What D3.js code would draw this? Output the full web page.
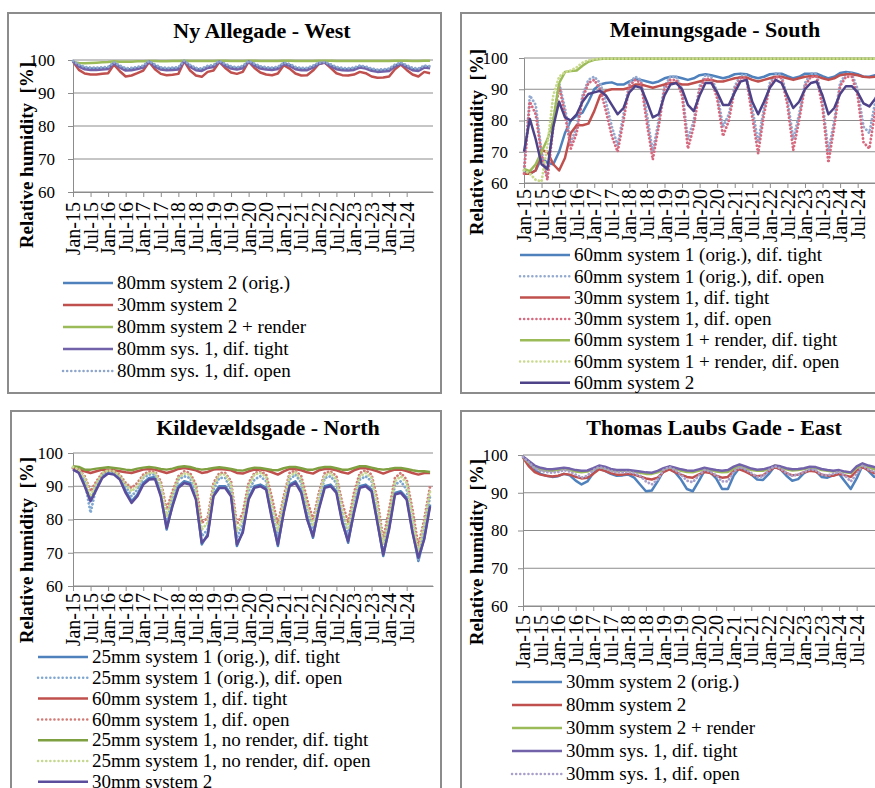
<!DOCTYPE html>
<html>
<head>
<meta charset="utf-8">
<script src="https://cdn.jsdelivr.net/npm/d3@7"></script>
<style>
  body { margin: 0; background: #fff; }
  svg { display: block; font-family: "Liberation Serif", "Times New Roman", serif; }
</style>
</head>
<body>
<svg id="chart" width="875" height="788"></svg>
<script>

// x positions: months since Jan-15, one sample every second month
var months = d3.range(0, 124, 2);
var tickMonths = d3.range(0, 120, 6);
var tickLabels = ["Jan-15", "Jul-15", "Jan-16", "Jul-16", "Jan-17", "Jul-17", "Jan-18", "Jul-18",
  "Jan-19", "Jul-19", "Jan-20", "Jul-20", "Jan-21", "Jul-21", "Jan-22", "Jul-22",
  "Jan-23", "Jul-23", "Jan-24", "Jul-24"];
var yTicks = [60, 70, 80, 90, 100];

// ---- Ny Allegade - West
var west80orig = [99.6, 98.3, 97.6, 97.4, 97.4, 97.5, 97.6, 99.2, 98.0, 97.2, 97.3, 97.6,
  98.0, 99.6, 98.3, 97.5, 97.3, 97.4, 97.5, 99.7, 98.2, 97.3, 97.1, 97.9,
  98.2, 99.6, 98.5, 97.8, 97.5, 97.9, 99.6, 98.6, 97.8, 97.5, 97.4, 97.6,
  99.0, 98.5, 97.6, 97.3, 97.3, 98.0, 99.0, 99.3, 98.4, 97.6, 97.3, 97.2,
  97.4, 98.0, 97.7, 97.1, 96.8, 96.9, 97.1, 98.3, 99.0, 98.1, 97.3, 97.1, 98.0, 97.8];
var west30 = [99.5, 97.0, 95.9, 95.6, 95.6, 95.8, 96.0, 98.6, 96.6, 95.0, 95.3, 96.0,
  96.8, 99.4, 97.2, 95.8, 95.4, 95.5, 95.8, 99.6, 96.8, 95.3, 94.9, 96.4,
  96.8, 99.4, 97.6, 96.2, 95.8, 96.4, 99.5, 97.6, 96.2, 95.6, 95.4, 95.9,
  98.4, 97.4, 95.9, 95.3, 95.4, 96.8, 98.8, 99.2, 97.6, 96.0, 95.4, 95.3,
  95.6, 96.4, 96.0, 95.0, 94.6, 94.7, 95.0, 97.2, 98.6, 97.0, 95.6, 95.0, 96.4, 96.0];
var west80render = [99.3, 99.1, 99.0, 99.1, 99.2, 99.3, 99.4, 99.6, 99.5, 99.5, 99.5, 99.6,
  99.6, 99.7, 99.7, 99.6, 99.6, 99.7, 99.7, 99.8, 99.7, 99.7, 99.7, 99.7,
  99.7, 99.8, 99.8, 99.7, 99.7, 99.7, 99.8, 99.8, 99.7, 99.7, 99.7, 99.7,
  99.8, 99.8, 99.7, 99.7, 99.7, 99.7, 99.8, 99.8, 99.8, 99.7, 99.7, 99.7,
  99.7, 99.7, 99.7, 99.7, 99.7, 99.7, 99.7, 99.8, 99.8, 99.8, 99.7, 99.7, 99.8, 99.8];
var west80tight = [99.5, 98.0, 97.2, 97.0, 97.0, 97.1, 97.3, 99.0, 97.7, 96.8, 96.9, 97.3,
  97.7, 99.5, 98.0, 97.1, 96.9, 97.0, 97.1, 99.6, 97.9, 96.9, 96.7, 97.6,
  97.9, 99.5, 98.2, 97.4, 97.1, 97.5, 99.5, 98.3, 97.4, 97.1, 97.0, 97.3,
  98.8, 98.2, 97.2, 96.9, 96.9, 97.7, 98.8, 99.2, 98.1, 97.2, 96.9, 96.8,
  97.0, 97.7, 97.4, 96.7, 96.4, 96.5, 96.7, 98.0, 98.8, 97.8, 96.9, 96.7, 97.7, 97.5];
var west80open = [99.7, 98.6, 97.9, 97.7, 97.7, 97.8, 97.9, 99.3, 98.3, 97.5, 97.6, 97.9,
  98.3, 99.7, 98.6, 97.8, 97.6, 97.7, 97.8, 99.8, 98.5, 97.6, 97.4, 98.2,
  98.5, 99.7, 98.8, 98.1, 97.8, 98.2, 99.7, 98.9, 98.1, 97.8, 97.7, 97.9,
  99.2, 98.8, 97.9, 97.6, 97.6, 98.3, 99.2, 99.4, 98.7, 97.9, 97.6, 97.5,
  97.7, 98.3, 98.0, 97.4, 97.1, 97.2, 97.4, 98.6, 99.2, 98.4, 97.6, 97.4, 98.3, 98.1];

// ---- Meinungsgade - South
var south60tight = [64, 63, 64, 68, 66.5, 66, 70, 76, 80, 81.5, 82.5, 86,
  90, 91.5, 92, 92.2, 91.5, 91.5, 92.5, 93.2, 93, 92.5, 92, 92.5,
  93.5, 94, 94, 93.5, 93, 93.5, 94.5, 94.8, 94.5, 94, 93.5, 94,
  94.8, 95, 94.8, 94, 93.5, 94, 94.8, 95, 95, 94.2, 93.5, 94,
  95, 95, 95, 94.2, 93.5, 94, 95.2, 95.5, 95.3, 94.8, 94, 94, 94.5, 94.5];
var south60open = [64, 88, 85, 70, 62, 80, 92, 84, 73, 78, 88, 93,
  94, 92, 86, 78, 72, 82, 92, 94, 93, 82, 70, 80,
  91, 94, 94, 90, 74, 80, 91, 94.5, 94, 89, 78, 82,
  91, 94.5, 94.5, 84, 73, 84, 92, 95, 94.5, 87, 74, 82,
  92, 95, 95, 86, 70, 80, 92, 95, 95, 90, 78, 76, 86, 92];
var south30tight = [63, 63, 64, 70.5, 70, 66, 64, 68, 76, 78.5, 78.5, 79,
  83, 88, 89.5, 90, 90, 90, 90.5, 91.5, 91.5, 91, 90.5, 91,
  91.5, 92, 92, 91.5, 91.5, 92, 92.5, 93, 93, 92.5, 92.5, 93,
  93.5, 93.8, 93.8, 93, 92.5, 93, 93.5, 94, 94, 93.5, 93, 93.5,
  94, 94.2, 94.2, 93.5, 93, 93.5, 94.5, 94.8, 94.8, 94.5, 94, 93.8, 94, 94];
var south30open = [63, 86, 82, 69, 61, 78, 91, 82, 71, 76, 87, 92,
  93, 90, 83, 75, 70, 80, 91, 93, 92, 79, 67.5, 78,
  90, 93, 93, 88, 71, 78, 90, 93.5, 93, 87, 75, 80,
  90, 93.5, 93.5, 81, 69.5, 82, 91, 94, 93.5, 85, 70.5, 80,
  91, 94, 94, 84, 66.5, 78, 91, 94, 94, 88, 73, 71, 83, 91];
var south60renderTight = [64.5, 63.8, 66, 70, 74, 80, 92, 95.5, 95.8, 96, 97.5, 98.8,
  99.4, 99.7, 99.8, 99.8, 99.8, 99.8, 99.8, 99.8, 99.8, 99.8, 99.8, 99.8,
  99.8, 99.8, 99.8, 99.8, 99.8, 99.8, 99.8, 99.8, 99.8, 99.8, 99.8, 99.8,
  99.8, 99.8, 99.8, 99.8, 99.8, 99.8, 99.8, 99.8, 99.8, 99.8, 99.8, 99.8,
  99.8, 99.8, 99.8, 99.8, 99.8, 99.8, 99.8, 99.8, 99.8, 99.8, 99.8, 99.8, 99.8, 99.8];
var south60renderOpen = [64, 63, 61, 60.5, 72, 88, 94, 95.5, 96, 97, 98.5, 99.3,
  99.6, 99.8, 99.8, 99.8, 99.8, 99.8, 99.8, 99.8, 99.8, 99.8, 99.8, 99.8,
  99.8, 99.8, 99.8, 99.8, 99.8, 99.8, 99.8, 99.8, 99.8, 99.8, 99.8, 99.8,
  99.8, 99.8, 99.8, 99.8, 99.8, 99.8, 99.8, 99.8, 99.8, 99.8, 99.8, 99.8,
  99.8, 99.8, 99.8, 99.8, 99.8, 99.8, 99.8, 99.8, 99.8, 99.8, 99.8, 99.8, 99.8, 99.8];
var south60sys2 = [70, 80.5, 74, 66, 64.5, 78, 86, 81, 80, 82, 86, 88.5,
  89, 89.5, 88, 85, 82, 84, 89, 91, 90.5, 86, 81, 82,
  88, 91.5, 92, 90, 85, 83, 88, 92, 92, 89, 85, 85,
  89, 92.5, 93, 86, 82, 86, 90.5, 93, 92, 88, 84, 86,
  90, 92, 92.5, 88, 82, 84, 88.5, 91, 91, 89, 85.5, 84.5, 87, 90];

// ---- Kildevaeldsgade - North
var north25tight = [95.5, 94.5, 90.5, 86, 89.5, 93, 94.2, 94, 92.5, 88.5, 85.5, 87.5,
  91, 92.5, 92.8, 87.5, 77, 84.5, 90, 91.5, 91, 86.5, 72.5, 75.5,
  87.5, 90, 90, 87.5, 72, 76.5, 86.5, 90, 90.5, 89.5, 80.5, 72,
  82.5, 90.5, 91.5, 88.5, 80.5, 74.5, 83.5, 90, 90.5, 88.5, 79.5, 73,
  82.5, 90, 90.5, 89, 79.5, 69, 77.5, 88, 88.5, 86.5, 76.5, 67.5, 74.5, 84.5];
var north25open = [95.5, 94.5, 91.5, 82, 90, 93.5, 94.5, 94.2, 93, 90, 87, 89,
  92.5, 93.5, 93.5, 89, 79, 86, 92, 93, 92.5, 88, 75, 77,
  89, 92.5, 92.5, 89, 74.5, 78.5, 88.5, 92, 93, 91.5, 82.5, 74.5,
  84.5, 92, 93.5, 91, 82.5, 76, 85.5, 92.5, 93, 91, 81.5, 75,
  85, 92, 93, 91.5, 82, 70.5, 80, 90.5, 91.5, 89, 79, 68, 77, 87];
var north60tight = [95.5, 95.0, 94.5, 94.0, 94.5, 95.0, 95.0, 94.8, 94.5, 94.2, 94.0, 94.5,
  95.0, 95.2, 95.0, 94.5, 94.0, 94.5, 95.2, 95.5, 95.2, 94.8, 94.0, 94.3,
  95.0, 95.2, 95.0, 94.8, 94.0, 93.8, 94.5, 95.0, 95.0, 94.8, 94.2, 93.5,
  94.5, 95.2, 95.2, 94.8, 94.2, 93.8, 94.8, 95.2, 95.2, 94.8, 94.2, 93.8,
  94.8, 95.4, 95.4, 95.0, 94.5, 93.8, 94.5, 95.0, 95.0, 94.6, 94.0, 93.5, 94.0, 94.0];
var north60open = [95.5, 95, 93, 88.5, 91.5, 94, 94.8, 94.5, 93.5, 91, 89.5, 91,
  93.5, 94.5, 94.5, 91.5, 83, 88.5, 93, 94.5, 94, 90.5, 79, 80.5,
  91, 94, 94, 91.5, 78.5, 82, 91, 94, 94.5, 93.5, 86.5, 78.5,
  87, 94, 94.8, 93, 86, 80, 88, 94, 94.5, 93, 85, 79,
  88, 94, 94.8, 93.5, 86, 74, 83, 92.5, 94, 92, 83, 72, 80, 90];
var north25noRenderTight = [96.0, 95.8, 95.0, 95.0, 95.3, 95.5, 95.7, 95.5, 95.3, 95.0, 94.8, 95.3,
  95.6, 95.8, 95.6, 95.2, 95.0, 95.3, 95.8, 96.0, 95.8, 95.3, 95.0, 95.2,
  95.5, 95.7, 95.5, 95.2, 94.8, 94.7, 95.2, 95.6, 95.5, 95.2, 94.9, 94.8,
  95.4, 95.8, 95.8, 95.4, 95.0, 95.0, 95.5, 95.8, 95.8, 95.4, 95.0, 95.0,
  95.5, 96.0, 96.0, 95.6, 95.2, 95.0, 95.2, 95.5, 95.5, 95.2, 94.8, 94.5, 94.5, 94.3];
var north25noRenderOpen = [95.8, 95, 92.5, 87, 91, 94, 94.8, 94.5, 93.2, 90.5, 88.5, 90,
  93, 94, 94, 90.5, 81, 87.5, 92.5, 93.8, 93.5, 89.5, 77, 79,
  90, 93.5, 93.5, 90.5, 76.5, 80, 90, 93.5, 94, 92.8, 84.5, 76.5,
  85.5, 93, 94.2, 92, 84, 78, 86.5, 93.2, 94, 92, 83, 77,
  86.5, 93, 94, 92.5, 84, 72.5, 81.5, 91.5, 93, 91, 81, 70, 78.5, 88.5];
var north30sys2 = [95, 94, 90, 85.5, 89, 92.5, 93.8, 93.5, 92, 88, 85, 87,
  90.5, 92, 92.2, 87, 77.5, 84, 89.5, 91, 90.5, 86, 73, 75,
  87, 89.5, 89.5, 87, 72.5, 76, 86, 89.5, 90, 89, 80, 72.5,
  82, 90, 91, 88, 80, 75, 83, 89.5, 90, 88, 79, 73.5,
  82, 89.5, 90, 88.5, 79, 69.5, 77, 87.5, 88, 86, 76, 68.5, 74, 84];

// ---- Thomas Laubs Gade - East
var east30orig = [99.5, 97.6, 96.0, 95.0, 94.5, 94.2, 94.4, 95.0, 94.6, 93.2, 92.2, 93.0,
  95.2, 96.4, 95.8, 95.0, 94.5, 94.6, 94.8, 94.0, 92.2, 90.4, 90.6, 93.0,
  95.8, 96.4, 95.4, 93.5, 91.0, 90.4, 93.0, 95.8, 95.4, 93.8, 91.0, 91.0,
  94.6, 96.6, 96.0, 94.8, 93.5, 93.4, 95.0, 97.0, 96.2, 94.5, 93.2, 93.6,
  95.2, 96.0, 95.8, 94.2, 94.0, 94.6, 95.0, 93.0, 91.0, 93.8, 97.2, 95.8, 94.2, 94.8];
var east80 = [99.3, 97.0, 95.5, 94.8, 94.5, 94.3, 94.5, 95.0, 94.8, 94.2, 93.8, 94.0,
  95.0, 96.2, 95.8, 95.2, 94.8, 94.8, 95.0, 94.8, 94.3, 93.8, 93.5, 94.0,
  95.5, 96.2, 95.5, 94.8, 94.2, 94.0, 94.8, 95.5, 95.2, 94.5, 94.0, 94.2,
  95.8, 96.2, 95.6, 94.8, 94.4, 94.6, 95.8, 96.8, 96.2, 95.2, 94.6, 94.8,
  95.4, 95.8, 95.6, 94.8, 94.6, 94.5, 95.0, 94.6, 94.2, 95.8, 96.8, 96.0, 95.2, 95.0];
var east30render = [99.5, 98.0, 96.8, 96.0, 95.8, 95.8, 96.0, 96.3, 96.0, 95.6, 95.4, 95.6,
  96.2, 96.8, 96.5, 96.0, 95.7, 95.8, 95.8, 95.6, 95.3, 95.0, 95.0, 95.4,
  96.2, 96.8, 96.3, 95.8, 95.5, 95.4, 95.8, 96.3, 96.0, 95.6, 95.4, 95.5,
  96.4, 97.0, 96.5, 96.0, 95.8, 95.8, 96.4, 97.2, 96.8, 96.2, 95.9, 96.0,
  96.3, 96.6, 96.6, 96.0, 95.8, 95.6, 95.8, 95.4, 95.2, 96.6, 97.4, 96.8, 96.2, 96.0];
var east30tight = [99.6, 98.4, 97.2, 96.6, 96.3, 96.2, 96.4, 96.6, 96.4, 96.0, 95.8, 95.9,
  96.5, 97.2, 96.9, 96.3, 96.0, 96.0, 96.0, 95.8, 95.6, 95.4, 95.3, 95.8,
  96.5, 97.0, 96.6, 96.2, 95.9, 95.8, 96.2, 96.6, 96.3, 96.0, 95.8, 96.0,
  96.9, 97.5, 97.0, 96.4, 96.1, 96.2, 96.6, 97.2, 97.0, 96.5, 96.2, 96.3,
  96.5, 96.9, 96.8, 96.3, 96.0, 95.8, 96.0, 95.6, 95.4, 97.0, 97.8, 97.2, 96.8, 96.6];
var east30open = [99.5, 98.0, 96.5, 95.8, 95.5, 95.3, 95.5, 96.0, 95.6, 94.8, 94.0, 94.5,
  96.0, 96.8, 96.4, 95.8, 95.4, 95.4, 95.5, 95.2, 94.5, 93.0, 92.2, 93.5,
  96.0, 96.8, 96.0, 94.8, 93.2, 92.8, 94.5, 96.0, 95.6, 94.6, 93.0, 93.0,
  95.6, 96.8, 96.2, 95.2, 94.2, 94.3, 96.0, 97.0, 96.4, 95.2, 94.5, 94.8,
  95.5, 96.2, 96.0, 94.8, 94.6, 95.0, 95.5, 94.5, 93.0, 95.0, 97.2, 96.2, 95.5, 95.2];


var svg = d3.select("#chart");

var panels = [
  {
    title: "Ny Allegade - West", frame: [8, 13, 433, 380], titleX: 262, titleY: 38,
    left: 73, top: 60, bottom: 192, yPad: 13, xPad: 10, yTitleX: 33, yTitleY: 155,
    legX: 63, legY: 283, legStep: 22,
    series: [
      {name: "80mm system 2 (orig.)", values: west80orig, color: "#4F81BD"},
      {name: "30mm system 2", values: west30, color: "#C0504D"},
      {name: "80mm system 2 + render", values: west80render, color: "#9BBB59"},
      {name: "80mm sys. 1, dif. tight", values: west80tight, color: "#7262AA"},
      {name: "80mm sys. 1, dif. open", values: west80open, color: "#8FA6CC", dotted: true}
    ]
  },
  {
    title: "Meinungsgade - South", frame: [461, 13, 440, 380], titleX: 715, titleY: 37,
    left: 524, top: 58, bottom: 183, yPad: 11, xPad: 6, yTitleX: 483, yTitleY: 142,
    legX: 520, legY: 255, legStep: 21.3,
    series: [
      {name: "60mm system 1 (orig.), dif. tight", values: south60tight, color: "#4F81BD"},
      {name: "60mm system 1 (orig.), dif. open", values: south60open, color: "#93A9CF", dotted: true},
      {name: "30mm system 1, dif. tight", values: south30tight, color: "#C0504D"},
      {name: "30mm system 1, dif. open", values: south30open, color: "#D7697F", dotted: true},
      {name: "60mm system 1 + render, dif. tight", values: south60renderTight, color: "#9BBB59"},
      {name: "60mm system 1 + render, dif. open", values: south60renderOpen, color: "#C9DA8E", dotted: true},
      {name: "60mm system 2", values: south60sys2, color: "#4E4388"}
    ]
  },
  {
    title: "Kildevældsgade - North", frame: [11, 411, 430, 400], titleX: 268, titleY: 435,
    left: 73, top: 453, bottom: 586, yPad: 5, xPad: 7, yTitleX: 33, yTitleY: 550,
    legX: 38, legY: 657, legStep: 20.8,
    series: [
      {name: "25mm system 1 (orig.), dif. tight", values: north25tight, color: "#4F81BD"},
      {name: "25mm system 1 (orig.), dif. open", values: north25open, color: "#7FA7D0", dotted: true},
      {name: "60mm system 1, dif. tight", values: north60tight, color: "#C0504D"},
      {name: "60mm system 1, dif. open", values: north60open, color: "#D27B76", dotted: true},
      {name: "25mm system 1, no render, dif. tight", values: north25noRenderTight, color: "#7FA040"},
      {name: "25mm system 1, no render, dif. open", values: north25noRenderOpen, color: "#C5D88F", dotted: true},
      {name: "30mm system 2", values: north30sys2, color: "#5B4C9C"}
    ]
  },
  {
    title: "Thomas Laubs Gade - East", frame: [461, 411, 440, 400], titleX: 714, titleY: 435,
    left: 523, top: 455, bottom: 606, yPad: 10, xPad: 9, yTitleX: 483, yTitleY: 552,
    legX: 512, legY: 682, legStep: 23,
    series: [
      {name: "30mm system 2 (orig.)", values: east30orig, color: "#4F81BD"},
      {name: "80mm system 2", values: east80, color: "#C0504D"},
      {name: "30mm system 2 + render", values: east30render, color: "#9BBB59"},
      {name: "30mm sys. 1, dif. tight", values: east30tight, color: "#7262AA"},
      {name: "30mm sys. 1, dif. open", values: east30open, color: "#A99FCB", dotted: true}
    ]
  }
];

panels.forEach(drawPanel);

function drawPanel(p) {

  var x = d3.scaleLinear().domain([0, 123]).range([p.left, p.left + 360]);
  var y = d3.scaleLinear().domain([60, 100]).range([p.bottom, p.top]);
  var g = svg.append("g");

  // chart border
  g.append("rect")
    .attr("x", p.frame[0]).attr("y", p.frame[1])
    .attr("width", p.frame[2]).attr("height", p.frame[3])
    .attr("fill", "none").attr("stroke", "#8c8c8c").attr("stroke-width", 2);

  g.append("text")
    .attr("x", p.titleX).attr("y", p.titleY)
    .attr("text-anchor", "middle").attr("font-weight", "bold").attr("font-size", 22)
    .text(p.title);

  // gridlines
  g.selectAll(".grid").data(yTicks).enter().append("line")
    .attr("x1", p.left).attr("x2", p.left + 360)
    .attr("y1", function(d){ return y(d); }).attr("y2", function(d){ return y(d); })
    .attr("stroke", "#8c8c8c").attr("stroke-width", 1);

  var yAxis = d3.axisLeft(y).tickValues(yTicks).tickSize(5).tickPadding(p.yPad);
  var ya = g.append("g").attr("transform", "translate(" + p.left + ",0)").call(yAxis);
  ya.attr("font-family", null);
  ya.select(".domain").attr("stroke", "#8c8c8c");
  ya.selectAll(".tick line").attr("stroke", "#8c8c8c");
  ya.selectAll("text").attr("font-size", 17).attr("fill", "#000");

  var xAxis = d3.axisBottom(x).tickValues(tickMonths)
    .tickFormat(function(d, i){ return tickLabels[i]; })
    .tickSize(5).tickSizeOuter(0);
  var xa = g.append("g").attr("transform", "translate(0," + p.bottom + ")").call(xAxis);
  xa.attr("font-family", null);
  xa.select(".domain").attr("stroke", "#8c8c8c");
  xa.selectAll(".tick line").attr("stroke", "#8c8c8c");
  xa.selectAll("text")
    .attr("transform", "rotate(-90)")
    .attr("text-anchor", "end")
    .attr("x", -p.xPad).attr("y", 0).attr("dy", "0.33em")
    .attr("font-size", 20).attr("fill", "#000");

  // axis title
  g.append("text")
    .attr("transform", "translate(" + p.yTitleX + "," + p.yTitleY + ") rotate(-90)")
    .attr("text-anchor", "middle").attr("font-weight", "bold").attr("font-size", 19)
    .text("Relative humidity\u00a0 [%]");

  var line = d3.line()
    .x(function(d, i){ return x(months[i]); })
    .y(function(d){ return y(d); });

  p.series.forEach(function(s){
    g.append("path").datum(s.values)
      .attr("d", line)
      .attr("fill", "none")
      .attr("stroke", s.color)
      .attr("stroke-width", s.dotted ? 2.8 : 2.5)
      .attr("stroke-linejoin", "round")
      .attr("stroke-linecap", s.dotted ? "round" : "butt")
      .attr("stroke-dasharray", s.dotted ? "0.1,3.6" : null);
  });

  // legend
  p.series.forEach(function(s, i){
    var ly = p.legY + i * p.legStep;
    g.append("line")
      .attr("x1", p.legX).attr("x2", p.legX + 50).attr("y1", ly).attr("y2", ly)
      .attr("stroke", s.color).attr("stroke-width", 2.5)
      .attr("stroke-linecap", s.dotted ? "round" : "butt")
      .attr("stroke-dasharray", s.dotted ? "0.1,4" : null);
    g.append("text")
      .attr("x", p.legX + 54).attr("y", ly).attr("dy", "0.33em")
      .attr("font-size", 19)
      .text(s.name);
  });
}

</script>
</body>
</html>
